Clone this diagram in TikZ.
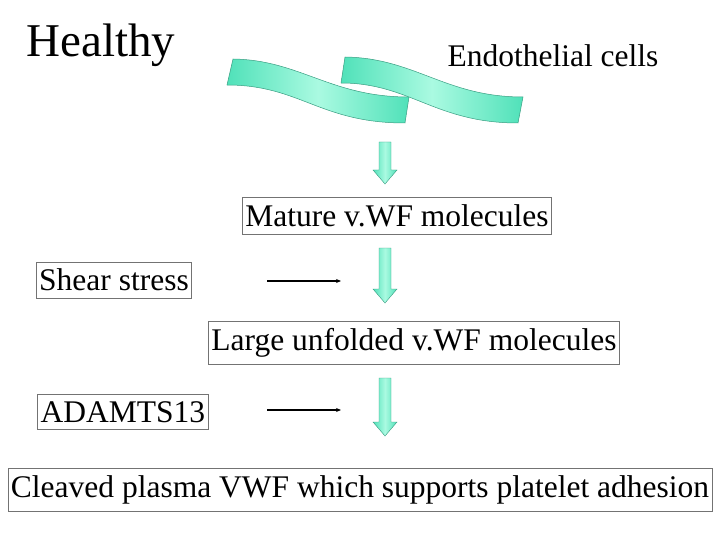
\documentclass[tikz,border=0pt]{standalone}
\usepackage{fontspec}
\setmainfont{Liberation Serif}
\usetikzlibrary{arrows.meta}
\definecolor{aqua}{RGB}{80,225,185}
\definecolor{aqualight}{RGB}{170,250,225}
\begin{document}
\begin{tikzpicture}[x=1pt,y=-1pt,
  box/.style={draw=black!55,line width=0.8pt,inner xsep=3pt,inner ysep=7pt,font=\fontsize{31.5}{33}\selectfont},
  lbl/.style={inner sep=0pt,font=\fontsize{31.5}{33}\selectfont},
  ribbon/.style={draw=aqua!70!black,line width=0.5pt,left color=aqua,right color=aqua,middle color=aqualight},
  blk/.style={draw=aqua!70!black,line width=0.4pt,left color=aqua,right color=aqua,middle color=aqualight},
  thin/.style={-{Stealth[length=5pt,width=4pt]},line width=1.6pt}]
\useasboundingbox (0,0) rectangle (720,540);
% endothelial cells
\path[ribbon] (233,59) .. controls (300,60) and (330,97) .. (409,97)
  -- (405,123) .. controls (320,123) and (300,85) .. (227,85) -- cycle;
\path[ribbon] (345,57) .. controls (415,58) and (445,97) .. (523,97)
  -- (518,123) .. controls (435,123) and (410,83) .. (341,83) -- cycle;
\node[lbl,font=\fontsize{47}{49}\selectfont] (healthy) at (101,45) {Healthy};
\node[lbl] (endo) at (553,56) {Endothelial cells};
% boxes
\node[box] (mature) at (397,216) {Mature v.WF molecules};
\node[box] (shear) at (114,280) {Shear stress};
\node[box] (large) at (414,343) {Large unfolded v.WF molecules};
\node[box] (adam) at (123,412) {ADAMTS13};
\node[box] (cleave) at (360,490) {Cleaved plasma VWF which supports platelet adhesion};
% block arrows
\foreach \yt/\yb in {142/184, 248/303, 378/436}{
  \path[blk] (379,\yt) -- (391,\yt) -- (391,\yb-14) -- (397,\yb-14) -- (385,\yb)
    -- (373,\yb-14) -- (379,\yb-14) -- cycle;
}
% thin arrows
\coordinate (s1) at (267,281); \coordinate (e1) at (341,281);
\coordinate (s2) at (267,410); \coordinate (e2) at (341,410);
\draw[thin] (s1) -- (e1);
\draw[thin] (s2) -- (e2);
\end{tikzpicture}
\end{document}
